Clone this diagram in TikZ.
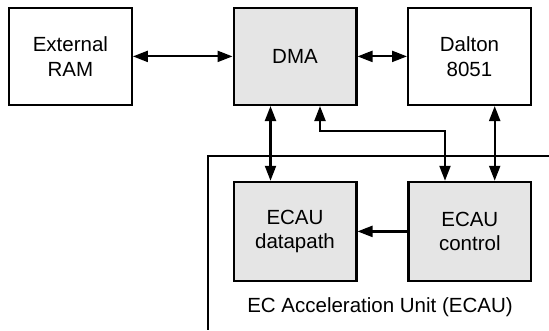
\documentclass[tikz,border=0pt]{standalone}
\usepackage{fontspec}
\setmainfont{Liberation Sans}
\usetikzlibrary{arrows.meta}
\begin{document}
\begin{tikzpicture}[x=1pt,y=1pt,
  font=\fontsize{20.5}{24.8}\selectfont,
  box/.style={draw, line width=2.2pt, minimum width=122.8pt, minimum height=97.1pt, align=center, inner sep=0pt},
  lowbox/.style={box, minimum height=99.1pt},
  shaded/.style={fill=gray!20},
  tip/.tip={Triangle[length=15pt,width=11pt]},
  conn/.style={line width=2.2pt, tip-tip},
  oneway/.style={line width=2.2pt, -tip},
  frameline/.style={line width=2.2pt},
]
\useasboundingbox (0,0) rectangle (549,330);
% upper row
\node[box] (ram) at (70.4,273.6) {External\\RAM};
\node[box, shaded] (dma) at (295,273.6) {DMA};
\node[box] (dalton) at (469.5,273.6) {Dalton\\8051};
% lower row
\node[lowbox, shaded] (dp) at (295,98.6) {ECAU\\datapath};
\node[lowbox, shaded] (ctl) at (469.8,98.6) {ECAU\\control};
% frame
\coordinate (fa) at (549,174.3);
\coordinate (fb) at (208,174.3);
\coordinate (fc) at (208,0);
\draw[frameline] (fa) -- (fb) -- (fc);
\node (lbl) at (380,23) {EC Acceleration Unit (ECAU)};
% connectors
\draw[conn] (ram) -- (dma);
\draw[conn] (dma) -- (dalton);
\draw[conn] ([xshift=-24.5pt]dma.south) -- ([xshift=-24.5pt]dp.north);
\coordinate (bend) at (445,199);
\draw[conn] ([xshift=25pt]dma.south) |- (bend) -- (bend |- ctl.north);
\draw[conn] ([xshift=25.2pt]dalton.south) -- ([xshift=25.2pt]dalton.south |- ctl.north);
\draw[oneway] (ctl) -- (dp);
\end{tikzpicture}
\end{document}
